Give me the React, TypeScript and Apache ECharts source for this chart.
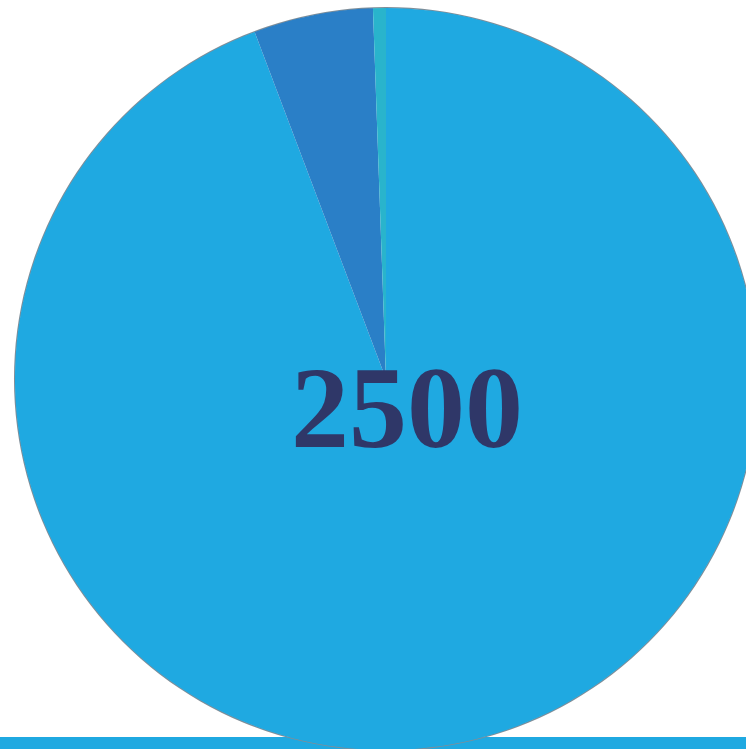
import React, { useEffect, useRef } from "react";
import * as echarts from "echarts";

const categories = ["A", "B", "C"];
const values = [2356, 130, 14];
const colors = ["#1fa9e1", "#2a7fc7", "#29b4cc"];
const centerLabel = "2500";

export default function App() {
  const ref = useRef<HTMLDivElement>(null);
  useEffect(() => {
    if (!ref.current) return;
    const chart = echarts.init(ref.current, undefined, { renderer: "svg" });
    chart.setOption({
      animation: false,
      graphic: [
        {
          type: "rect",
          left: 0,
          top: 737,
          shape: { width: 746, height: 12 },
          style: { fill: "#1fa9e1" },
          z: 0,
        },
        {
          type: "text",
          x: 407,
          y: 408,
          z: 100,
          style: {
            text: centerLabel,
            fill: "#2f3768",
            fontFamily: "Liberation Serif",
            fontWeight: "bold",
            fontSize: 116,
            textAlign: "center",
            textVerticalAlign: "middle",
          },
        },
      ],
      series: [
        {
          type: "pie",
          center: [386, 379],
          radius: [370.5, 372],
          silent: true,
          label: { show: false },
          labelLine: { show: false },
          itemStyle: { color: "#7f8e99", borderWidth: 0 },
          data: [{ name: "outline", value: 1 }],
          z: 1,
        },
        {
          type: "pie",
          center: [386, 379],
          radius: [0, 371],
          startAngle: 90,
          clockwise: true,
          label: { show: false },
          labelLine: { show: false },
          itemStyle: { borderWidth: 0 },
          data: categories.map((c, i) => ({
            name: c,
            value: values[i],
            itemStyle: { color: colors[i] },
          })),
          z: 2,
        },
      ],
    });
    return () => chart.dispose();
  }, []);
  return (
    <div
      ref={ref}
      style={{ position: "fixed", left: 0, top: 0, width: 746, height: 749 }}
    />
  );
}
